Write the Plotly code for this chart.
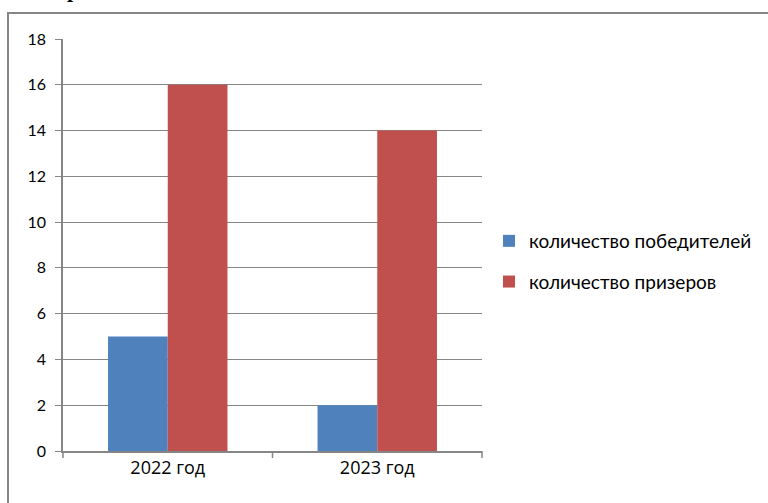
import plotly.graph_objects as go

categories = ["2022 год", "2023 год"]
winners = [5, 2]
prizewinners = [16, 14]
series_names = ["количество победителей", "количество призеров"]
y_ticks = [0, 2, 4, 6, 8, 10, 12, 14, 16, 18]

W, H = 768, 503
L, R, T, B = 63, 482, 39, 451
pw, ph = R - L, B - T

def px(x):
    return (x - L) / pw

def py(y):
    return (B - y) / ph

fig = go.Figure()
fig.add_trace(go.Bar(x=categories, y=winners, name=series_names[0],
                     marker=dict(color="#4f81bd", line=dict(width=0)),
                     legendgroup="a"))
fig.add_trace(go.Bar(x=categories, y=prizewinners, name=series_names[1],
                     marker=dict(color="#c0504d", line=dict(width=0)),
                     legendgroup="b"))

font = "Lato, 'Open Sans', sans-serif"
fig.update_layout(
    width=W, height=H,
    margin=dict(l=L, r=W - R, t=T, b=H - B, autoexpand=False),
    paper_bgcolor="white", plot_bgcolor="white",
    barmode="group", bargap=0.43, bargroupgap=0,
    font=dict(family=font, size=16, color="#000000"),
    showlegend=True,
    legend=dict(x=px(489), y=py(222), xanchor="left", yanchor="top",
                font=dict(family=font, size=19, color="#000000"),
                tracegroupgap=13, itemwidth=30, bgcolor="rgba(0,0,0,0)"),
    xaxis=dict(showline=True, linecolor="#868686", linewidth=1.5,
               ticks="outside", ticklen=0, showgrid=False,
               tickfont=dict(family="'Liberation Sans Narrow', 'Open Sans', sans-serif", size=18),
               fixedrange=True),
    yaxis=dict(range=[0, 18], tickvals=y_ticks, showline=True,
               linecolor="#868686", linewidth=1.5,
               ticks="outside", ticklen=6, tickcolor="#868686",
               showgrid=True, gridcolor="#868686", gridwidth=1,
               tickfont=dict(family=font, size=16), ticklabelstandoff=6,
               zeroline=False, fixedrange=True),
)

# category boundary tick marks on x-axis
for xb in [L, (L + R) / 2, R]:
    fig.add_shape(type="line", xref="paper", yref="paper",
                  x0=px(xb), x1=px(xb), y0=0, y1=py(B + 7),
                  line=dict(color="#868686", width=1.5))

# chart area border
fig.add_shape(type="rect", xref="paper", yref="paper",
              x0=px(8), x1=px(820), y0=py(13), y1=py(540),
              line=dict(color="#868686", width=2), layer="below")

# cut-off title fragment at the top
fig.add_annotation(text="<b>р</b>", xref="paper", yref="paper",
                   x=px(73), y=py(-10), xanchor="center", yanchor="middle",
                   showarrow=False,
                   font=dict(family="'Liberation Serif', serif", size=22, color="#000000"))

fig.write_html("out.html", config={"displayModeBar": False},
               post_script="document.body.style.margin='0';document.body.style.overflow='hidden';")
